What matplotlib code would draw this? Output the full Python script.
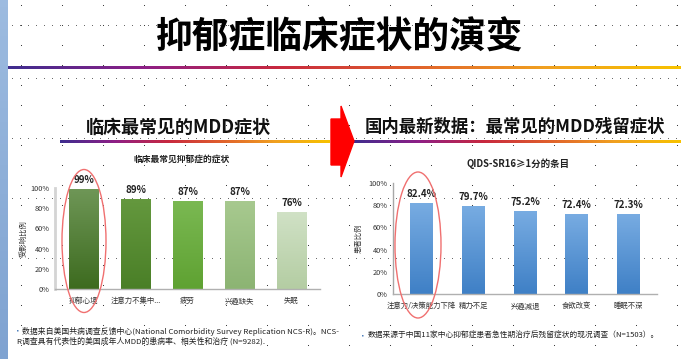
import numpy as np
import matplotlib.pyplot as plt
from matplotlib.patches import Ellipse, Polygon
from matplotlib.colors import LinearSegmentedColormap

plt.rcParams['font.family'] = ['Noto Sans CJK SC', 'DejaVu Sans']

# data
left_cats = ['抑郁心境', '注意力不集中...', '疲劳', '兴趣缺失', '失眠']
left_vals = [0.99, 0.89, 0.87, 0.87, 0.76]
left_labels = ['99%', '89%', '87%', '87%', '76%']

right_cats = ['注意力/决策能力下降', '精力不足', '兴趣减退', '食欲改变', '睡眠不深']
right_vals = [0.824, 0.797, 0.752, 0.724, 0.723]
right_labels = ['82.4%', '79.7%', '75.2%', '72.4%', '72.3%']

yticks = [0, 0.2, 0.4, 0.6, 0.8, 1.0]
ytick_labels = ['0%', '20%', '40%', '60%', '80%', '100%']

left_colors = [('#6e9656', '#3d6b1f'), ('#64983e', '#4a7f27'), ('#7ab852', '#5fa232'),
               ('#a7c98f', '#8cb473'), ('#d0e1c5', '#b4cda3')]
right_colors = [('#78ace2', '#3f80c6')] * 5

W, H = 681, 359
fig = plt.figure(figsize=(W / 100, H / 100), dpi=100)

# background layer in pixel coords
bg = fig.add_axes([0, 0, 1, 1], zorder=0)
bg.set_xlim(0, W)
bg.set_ylim(H, 0)
bg.axis('off')

# slide dot grid
gx, gy = np.meshgrid(np.arange(21, W, 41), np.arange(5, H, 20))
bg.scatter(gx.ravel(), gy.ravel(), s=0.6, c='#202020', lw=0)
for yy in [25, 78, 138, 198, 258]:
    xs = np.arange(12, W, 8)
    bg.scatter(xs, np.full(len(xs), yy), s=0.4, c='#505050', lw=0)

# left blue strip
strip = np.linspace(0, 1, 50).reshape(-1, 1)
bg.imshow(strip, extent=(0, 8, H, 0), aspect='auto',
          cmap=LinearSegmentedColormap.from_list('s', ['#9dbbe0', '#7fa3d1']))

grad = LinearSegmentedColormap.from_list(
    'g', ['#3f2d8f', '#8e1f86', '#c8283f', '#e0602c', '#f0a020', '#f7c100'])
row = np.linspace(0, 1, 200).reshape(1, -1)
bg.imshow(row, extent=(8, W, 69.5, 66.5), aspect='auto', cmap=grad)
bg.imshow(row, extent=(60, 330, 143.5, 141), aspect='auto', cmap=grad)
bg.imshow(row, extent=(352, W, 143.5, 141), aspect='auto', cmap=grad)
bg.set_xlim(0, W)
bg.set_ylim(H, 0)

bg.text(340, 38, '抑郁症临床症状的演变', fontsize=26.5, fontweight='heavy',
        ha='center', va='center', color='black')
bg.text(178, 127, '临床最常见的MDD症状', fontsize=13, fontweight='bold',
        ha='center', va='center', color='#111111')
bg.text(515, 127, '国内最新数据：最常见的MDD残留症状', fontsize=12.5, fontweight='bold',
        ha='center', va='center', color='#111111')

arrow = Polygon([(331, 119), (341, 119), (341, 106), (354, 141), (341, 177),
                 (341, 165), (331, 165)], closed=True, color='#ff0000', zorder=5)
bg.add_patch(arrow)

bg.text(182, 159, '临床最常见抑郁症的症状', fontsize=6.3, fontweight='bold',
        ha='center', va='center', color='#222222')
bg.text(518, 164, 'QIDS-SR16≥1分的条目', fontsize=6.8, fontweight='bold',
        ha='center', va='center', color='#222222')

# footnotes
bg.text(15, 331, '▪', fontsize=4, color='#4f81bd', va='center')
bg.text(22, 331, '数据来自美国共病调查反馈中心(National Comorbidity Survey Replication NCS-R)。NCS-',
        fontsize=5.65, va='center', color='#222222')
bg.text(17, 341, 'R调查具有代表性的美国成年人MDD的患病率、相关性和治疗 (N=9282).',
        fontsize=5.65, va='center', color='#222222')
bg.text(360, 336, '▪', fontsize=4, color='#4f81bd', va='center')
bg.text(368, 336, '数据来源于中国11家中心抑郁症患者急性期治疗后残留症状的现况调查（N=1503）。',
        fontsize=5.55, va='center', color='#222222')


def gradient_bars(ax, vals, colors, width):
    bars = ax.bar(range(len(vals)), vals, width=width, color='none', zorder=2)
    for b, (top, bot) in zip(bars, colors):
        cm = LinearSegmentedColormap.from_list('b', [bot, top])
        x0, y0 = b.get_x(), b.get_y()
        im = ax.imshow(np.linspace(0, 1, 64).reshape(-1, 1), cmap=cm, origin='lower',
                       extent=(x0, x0 + b.get_width(), y0, y0 + b.get_height()),
                       aspect='auto', zorder=2)
        im.set_clip_path(b)
    return bars


def setup(ax, cats, ylabel, spine_color, spine_w, lpad):
    ax.set_xlim(-0.55, len(cats) - 0.45)
    ax.set_ylim(0, 1)
    ax.set_yticks(yticks)
    ax.set_yticklabels(ytick_labels)
    ax.set_xticks(range(len(cats)))
    ax.set_xticklabels(cats)
    ax.tick_params(length=0, labelsize=5.3, labelcolor='#333333', pad=4)
    ax.tick_params(axis='x', pad=6)
    for s in ['top', 'right']:
        ax.spines[s].set_visible(False)
    ax.spines['left'].set_color(spine_color)
    ax.spines['left'].set_linewidth(spine_w)
    ax.spines['bottom'].set_color('#b0b0b0')
    ax.spines['bottom'].set_linewidth(1)
    ax.set_ylabel(ylabel, fontsize=5.3, color='#333333', labelpad=lpad)
    ax.patch.set_alpha(0)


# left chart
axl = fig.add_axes([55 / W, (H - 289) / H, 265 / W, 101 / H], zorder=2)
bl = gradient_bars(axl, left_vals, left_colors, 0.57)
setup(axl, left_cats, '受影响比例', '#d4d4d4', 2, 2)
for b, t in zip(bl, left_labels):
    axl.text(b.get_x() + b.get_width() / 2, b.get_height() + 0.04, t, ha='center',
             va='bottom', fontsize=7, fontweight='bold', color='#222222')

# right chart
axr = fig.add_axes([393 / W, (H - 294) / H, 264 / W, 111 / H], zorder=2)
br = gradient_bars(axr, right_vals, right_colors, 0.44)
setup(axr, right_cats, '患者比例', '#a8a8a8', 1, 4)
for b, t in zip(br, right_labels):
    axr.text(b.get_x() + b.get_width() / 2, b.get_height() + 0.035, t, ha='center',
             va='bottom', fontsize=7, fontweight='bold', color='#222222')

# red ellipses around the first bars
top = fig.add_axes([0, 0, 1, 1], zorder=3)
top.set_xlim(0, W)
top.set_ylim(H, 0)
top.axis('off')
top.add_patch(Ellipse((84, 241), 44, 143, fill=False, ec='#f07070', lw=1))
top.add_patch(Ellipse((418, 245), 46, 146, fill=False, ec='#f07070', lw=1))

fig.savefig('out.png', dpi=100)
